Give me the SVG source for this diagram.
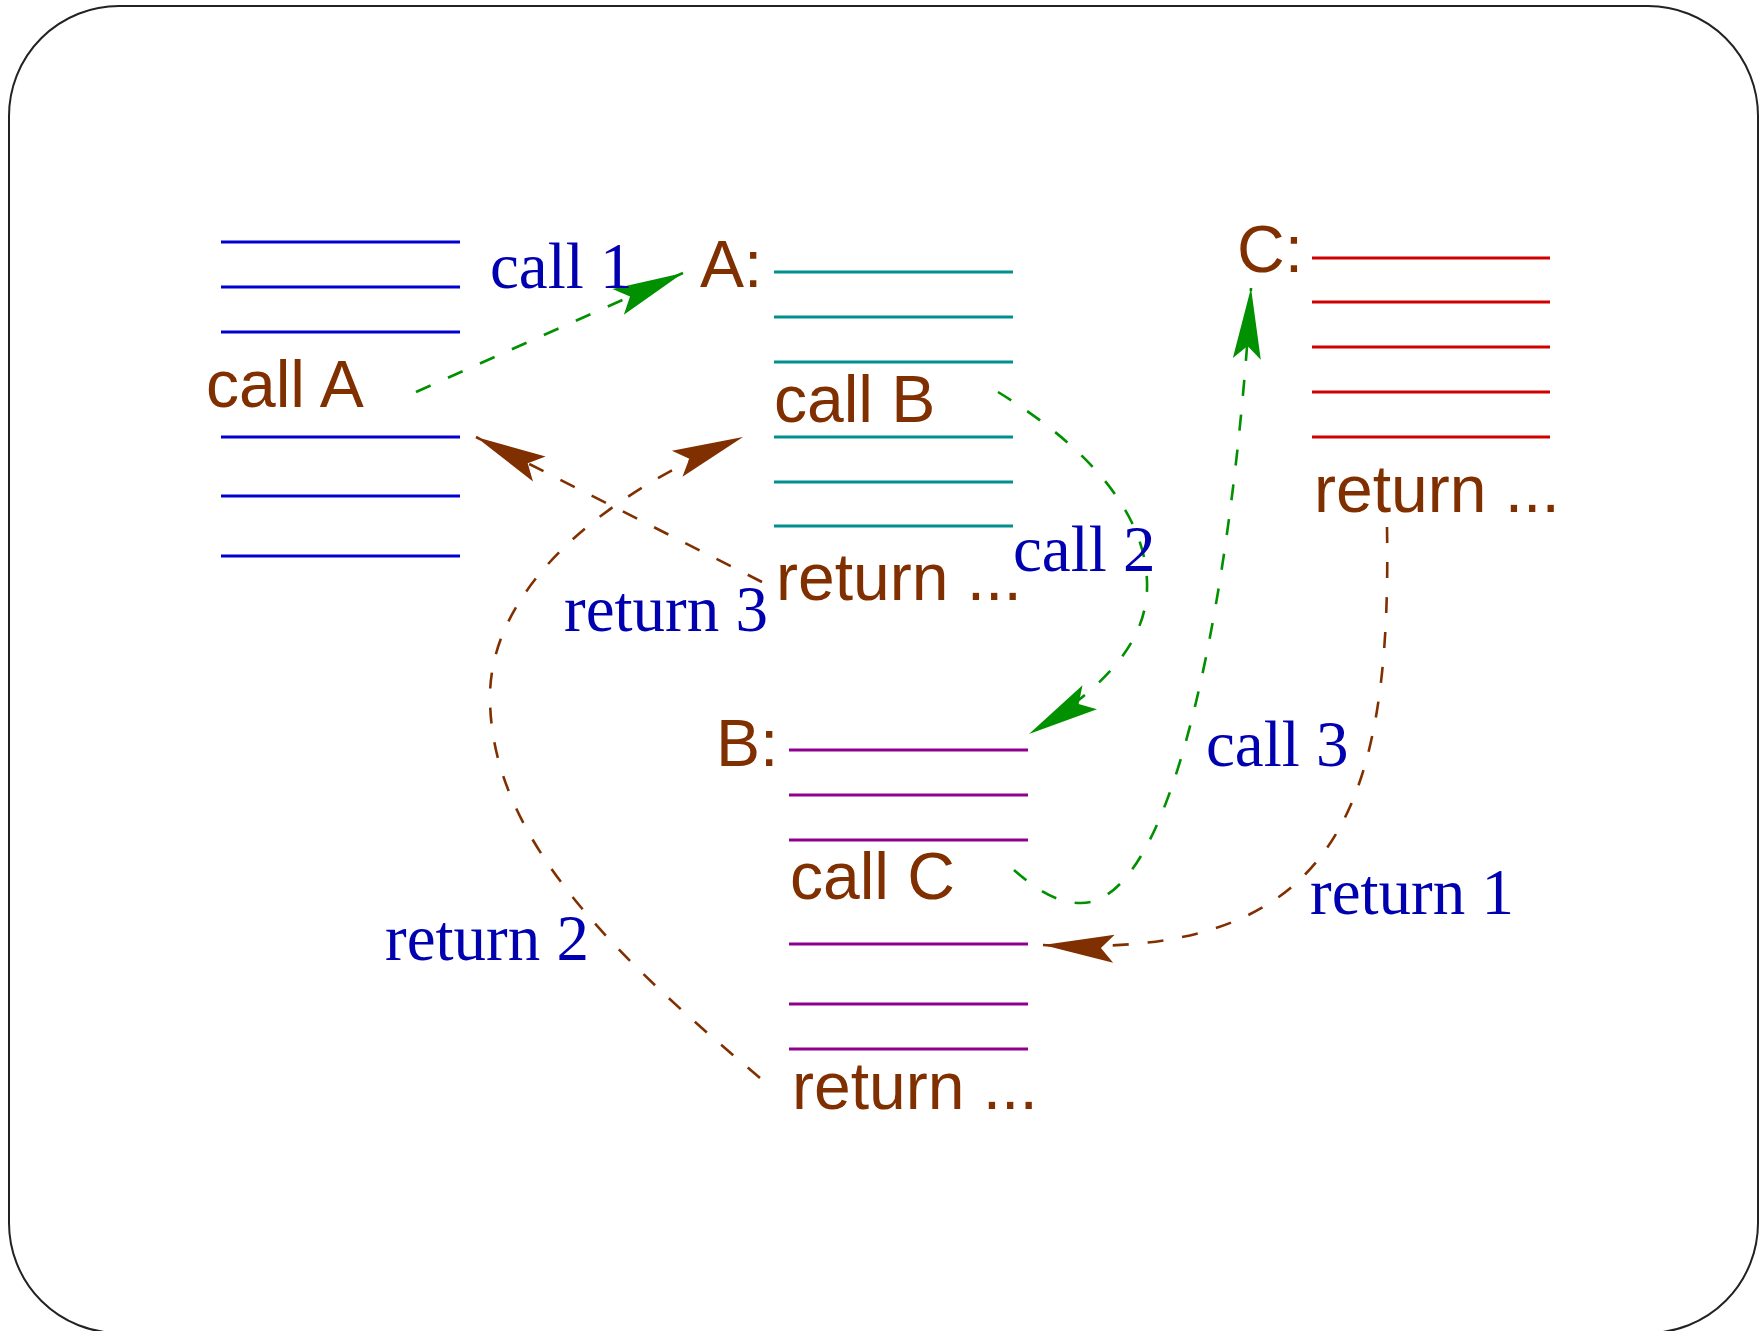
<svg xmlns="http://www.w3.org/2000/svg" width="1760" height="1331" viewBox="0 0 1760 1331">
<style>
.code{font-family:"Liberation Sans",Arial,sans-serif;font-size:66px;fill:#803000}
.lbl{font-family:"Liberation Serif","Times New Roman",serif;font-size:65px;fill:#0000b0}
.ln{stroke-width:2.8;fill:none}
.blue{stroke:#0000d0}
.teal{stroke:#009090}
.red{stroke:#d00000}
.purple{stroke:#900090}
.call{stroke:#009000;stroke-width:2.6;fill:none;stroke-dasharray:16 19}
.ret{stroke:#803000;stroke-width:2.6;fill:none;stroke-dasharray:16 19}
</style>
<defs>
<marker id="ahG" markerUnits="userSpaceOnUse" viewBox="-75 -20 80 40" markerWidth="80" markerHeight="40" refX="0" refY="0" orient="auto">
<path d="M0,0 L-71,-14 L-58,0 L-71,14 Z" fill="#009000"/>
</marker>
<marker id="ahB" markerUnits="userSpaceOnUse" viewBox="-75 -20 80 40" markerWidth="80" markerHeight="40" refX="0" refY="0" orient="auto">
<path d="M0,0 L-71,-14 L-58,0 L-71,14 Z" fill="#803000"/>
</marker>
</defs>
<rect x="9" y="6" width="1749" height="1327" rx="110" ry="110" fill="#ffffff" stroke="#222222" stroke-width="2"/>
<g id="main">
<g class="ln blue">
<line x1="221" y1="242" x2="460" y2="242"/>
<line x1="221" y1="287" x2="460" y2="287"/>
<line x1="221" y1="332" x2="460" y2="332"/>
<line x1="221" y1="437" x2="460" y2="437"/>
<line x1="221" y1="496" x2="460" y2="496"/>
<line x1="221" y1="556" x2="460" y2="556"/>
</g>
<text class="code" x="206" y="407">call A</text>
</g>
<g id="procA">
<text class="code" x="700" y="287">A:</text>
<g class="ln teal">
<line x1="774" y1="272" x2="1013" y2="272"/>
<line x1="774" y1="317" x2="1013" y2="317"/>
<line x1="774" y1="362" x2="1013" y2="362"/>
<line x1="774" y1="437" x2="1013" y2="437"/>
<line x1="774" y1="482" x2="1013" y2="482"/>
<line x1="774" y1="526" x2="1013" y2="526"/>
</g>
<text class="code" x="774" y="422">call B</text>
<text class="code" x="776" y="600">return ...</text>
</g>
<g id="procC">
<text class="code" x="1237" y="272">C:</text>
<g class="ln red">
<line x1="1312" y1="258" x2="1550" y2="258"/>
<line x1="1312" y1="302" x2="1550" y2="302"/>
<line x1="1312" y1="347" x2="1550" y2="347"/>
<line x1="1312" y1="392" x2="1550" y2="392"/>
<line x1="1312" y1="437" x2="1550" y2="437"/>
</g>
<text class="code" x="1314" y="512">return ...</text>
</g>
<g id="procB">
<text class="code" x="716" y="766">B:</text>
<g class="ln purple">
<line x1="789" y1="750" x2="1028" y2="750"/>
<line x1="789" y1="795" x2="1028" y2="795"/>
<line x1="789" y1="840" x2="1028" y2="840"/>
<line x1="789" y1="944" x2="1028" y2="944"/>
<line x1="789" y1="1004" x2="1028" y2="1004"/>
<line x1="789" y1="1049" x2="1028" y2="1049"/>
</g>
<text class="code" x="790" y="899">call C</text>
<text class="code" x="792" y="1109">return ...</text>
</g>
<g id="connectors">
<path class="call" d="M416,392 L683,273" marker-end="url(#ahG)"/>
<path class="call" d="M998,392 C1060,430 1150,500 1147,590 C1145,640 1110,685 1029,734" marker-end="url(#ahG)"/>
<path class="call" d="M1014,870 C1040,893 1060,903 1081,903 C1180,903 1235,560 1251,288" marker-end="url(#ahG)"/>
<path class="ret" d="M1387,527 C1392,820 1330,960 1043,945" marker-end="url(#ahB)"/>
<path class="ret" d="M760,1078 C620,960 490,840 490,697 C490,590 600,495 743,437" marker-end="url(#ahB)"/>
<path class="ret" d="M762,582 L476,437" marker-end="url(#ahB)"/>
<text class="lbl" x="490" y="288">call 1</text>
<text class="lbl" x="1013" y="571">call 2</text>
<text class="lbl" x="1206" y="766">call 3</text>
<text class="lbl" x="1310" y="914">return 1</text>
<text class="lbl" x="385" y="960">return 2</text>
<text class="lbl" x="564" y="631">return 3</text>
</g>
</svg>
